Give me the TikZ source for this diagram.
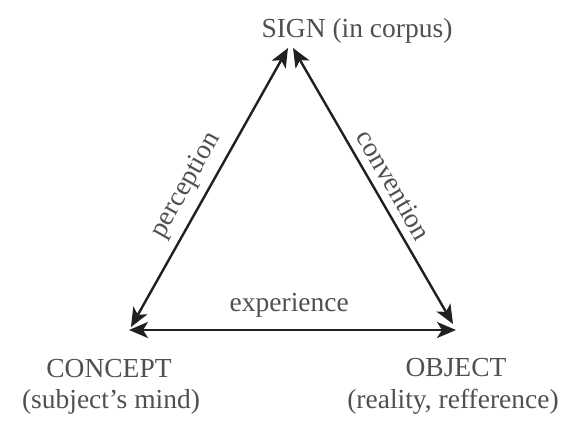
\documentclass[tikz,border=0pt]{standalone}
\usepackage{fontspec}
\setmainfont{Liberation Serif}
\usetikzlibrary{arrows.meta}
\definecolor{txt}{HTML}{505050}
\definecolor{ln}{HTML}{202020}
\tikzset{
  lbl/.style={font=\fontsize{27.5}{31}\selectfont, text=txt, inner sep=0pt},
  edgelbl/.style={font=\fontsize{27.5}{31}\selectfont, text=txt, inner sep=0pt},
  arr/.style={draw=ln, line width=2.4pt, {Stealth[length=19pt,width=16pt,inset=5pt]}-{Stealth[length=19pt,width=16pt,inset=5pt]}}
}
\begin{document}
\begin{tikzpicture}[x=1pt,y=-1pt]
\useasboundingbox[fill=white] (0,0) rectangle (564,429);
% labels
\node[lbl, anchor=base] (sign) at (357,37) {SIGN (in corpus)};
\node[lbl, anchor=base] (concept) at (109,377) {CONCEPT};
\node[lbl, anchor=base] (conceptsub) at (111,408) {(subject’s mind)};
\node[lbl, anchor=base] (object) at (456,376) {OBJECT};
\node[lbl, anchor=base] (objectsub) at (453,408) {(reality, refference)};
% arrow end points
\coordinate (sl) at (288,48);
\coordinate (sr) at (293,48);
\coordinate (cd) at (131,327);
\coordinate (ch) at (129,330);
\coordinate (od) at (453,324);
\coordinate (oh) at (456,330);
% connectors
\draw[arr] (cd) -- node[edgelbl, sloped, above=8pt, pos=0.47] {perception} (sl);
\draw[arr] (sr) -- node[edgelbl, sloped, above=8pt, pos=0.53] {convention} (od);
\draw[arr] (ch) -- node[edgelbl, above=11pt, pos=0.49] {experience} (oh);
\end{tikzpicture}
\end{document}
